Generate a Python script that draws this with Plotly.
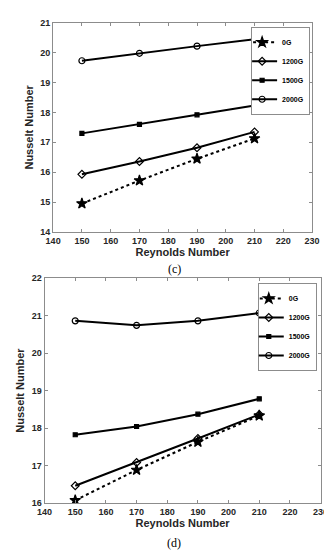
import plotly.graph_objects as go

re = [150, 170, 190, 210]
series_names = ["0G", "1200G", "1500G", "2000G"]

# panel (c)
c_0G = [14.95, 15.72, 16.45, 17.13]
c_1200G = [15.93, 16.36, 16.82, 17.35]
c_1500G = [17.30, 17.60, 17.92, 18.23]
c_2000G = [19.73, 19.98, 20.22, 20.45]

# panel (d)
d_0G = [16.07, 16.88, 17.63, 18.33]
d_1200G = [16.46, 17.08, 17.72, 18.36]
d_1500G = [17.82, 18.04, 18.37, 18.78]
d_2000G = [20.86, 20.74, 20.86, 21.07]

x_ticks = list(range(140, 231, 10))
c_yticks = list(range(14, 22))
d_yticks = list(range(16, 23))

symbols = ["star", "diamond-open", "square", "circle-open"]
sizes = [8, 6, 4, 6]
dashes = ["dot", "solid", "solid", "solid"]

fig = go.Figure()

def add_panel(data, xa, ya, legend):
    for name, ys, sym, sz, dash in zip(series_names, data, symbols, sizes, dashes):
        fig.add_trace(go.Scatter(
            x=re, y=ys, name=name, mode="lines+markers",
            xaxis=xa, yaxis=ya, legend=legend,
            line=dict(color="black", width=2, dash=dash),
            marker=dict(symbol=sym, size=sz, color="black",
                        line=dict(color="black", width=1.2)),
        ))

add_panel([c_0G, c_1200G, c_1500G, c_2000G], "x", "y", "legend")
add_panel([d_0G, d_1200G, d_1500G, d_2000G], "x2", "y2", "legend2")

tickfont = dict(family="Liberation Sans, Arial", size=9, color="#262626", weight="bold")
titlefont = dict(family="Liberation Sans, Arial", size=11, color="#262626", weight="bold")
axcommon = dict(showgrid=False, zeroline=False, showline=True, linecolor="#8c8c8c",
                linewidth=1, mirror="ticks", ticks="inside", ticklen=3,
                tickcolor="#8c8c8c", tickfont=tickfont, ticklabeloverflow="allow")
legfont = dict(family="Liberation Sans, Arial", size=7, color="black", weight="bold")

fig.update_layout(
    width=332, height=550, margin=dict(l=0, r=0, t=0, b=0),
    paper_bgcolor="white", plot_bgcolor="white",
    xaxis=dict(domain=[0.1175, 0.937], range=[140, 230], tickvals=x_ticks,
               anchor="y", title=dict(text="Reynolds Number", font=titlefont, standoff=3),
               **axcommon),
    yaxis=dict(domain=[0.5945, 0.9818], range=[14, 21], tickvals=c_yticks,
               anchor="x", title=dict(text="Nusselt Number", font=titlefont, standoff=4),
               **axcommon),
    xaxis2=dict(domain=[0.0904, 0.9639], range=[140, 230], tickvals=x_ticks,
                anchor="y2", title=dict(text="Reynolds Number", font=titlefont, standoff=3),
                **axcommon),
    yaxis2=dict(domain=[0.0927, 0.509], range=[16, 22], tickvals=d_yticks,
                anchor="x2", title=dict(text="Nusselt Number", font=titlefont, standoff=4),
                **axcommon),
    legend=dict(x=309 / 332, y=(550 - 14) / 550, xanchor="right", yanchor="top",
                bgcolor="white", bordercolor="#8c8c8c", borderwidth=1,
                font=legfont, tracegroupgap=0, itemwidth=30, itemsizing="trace",
                indentation=-10),
    legend2=dict(x=316 / 332, y=(550 - 275) / 550, xanchor="right", yanchor="top",
                 bgcolor="white", bordercolor="#8c8c8c", borderwidth=1,
                 font=legfont, tracegroupgap=0, itemwidth=30, itemsizing="trace",
                 indentation=-10),
    annotations=[
        dict(text="(c)", x=0.5, y=(550 - 261) / 550, xref="paper", yref="paper",
             xanchor="center", yanchor="middle", showarrow=False,
             font=dict(family="Liberation Serif, Times New Roman", size=12, color="black")),
        dict(text="(d)", x=0.5, y=(550 - 540) / 550, xref="paper", yref="paper",
             xanchor="center", yanchor="middle", showarrow=False,
             font=dict(family="Liberation Serif, Times New Roman", size=12, color="black")),
    ],
)

fig.write_html("out.html")
